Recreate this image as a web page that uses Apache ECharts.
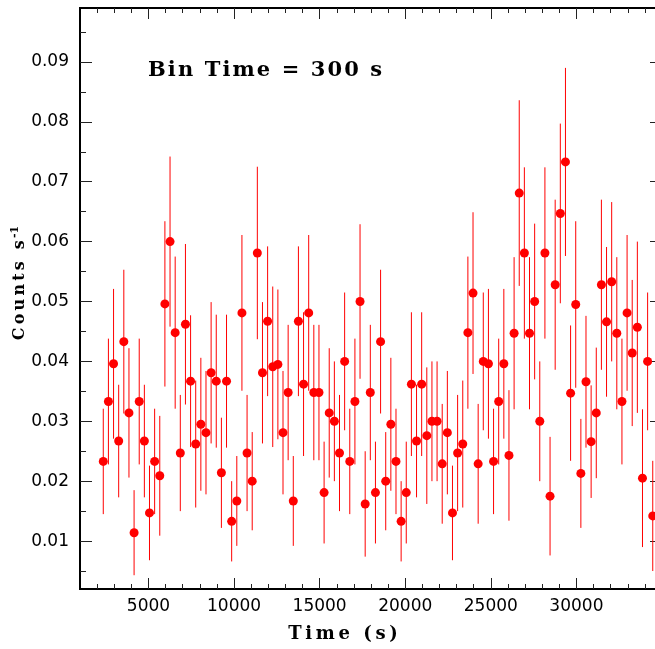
<!DOCTYPE html>
<html>
<head>
<meta charset="utf-8">
<title>Light curve</title>
<script src="https://cdn.jsdelivr.net/npm/echarts@6.0.0/dist/echarts.min.js"></script>
<style>
  html, body { margin: 0; padding: 0; background: #fff; }
  #chart { width: 655px; height: 649px; }
</style>
</head>
<body>
<div id="chart"></div>
<script>
// count rate per 300 s bin (counts/s) and 1-sigma error
const rates = [
  0.0233, 0.0333, 0.0396, 0.0267, 0.0433, 0.0314, 0.0114, 0.0333, 0.0267, 0.0147,
  0.0233, 0.0209, 0.0496, 0.0600, 0.0448, 0.0247, 0.0462, 0.0367, 0.0262, 0.0295,
  0.0281, 0.0381, 0.0367, 0.0214, 0.0367, 0.0133, 0.0167, 0.0481, 0.0247, 0.0200,
  0.0581, 0.0381, 0.0467, 0.0391, 0.0395, 0.0281, 0.0348, 0.0167, 0.0467, 0.0362,
  0.0481, 0.0348, 0.0348, 0.0181, 0.0314, 0.0300, 0.0247, 0.0400, 0.0233, 0.0333,
  0.0500, 0.0162, 0.0348, 0.0181, 0.0433, 0.0200, 0.0295, 0.0233, 0.0133, 0.0181,
  0.0362, 0.0267, 0.0362, 0.0276, 0.0300, 0.0300, 0.0229, 0.0281, 0.0147, 0.0247,
  0.0262, 0.0448, 0.0514, 0.0229, 0.0400, 0.0396, 0.0233, 0.0333, 0.0396, 0.0243,
  0.0447, 0.0681, 0.0581, 0.0447, 0.0500, 0.0300, 0.0581, 0.0175, 0.0528, 0.0647,
  0.0733, 0.0347, 0.0495, 0.0213, 0.0366, 0.0266, 0.0314, 0.0528, 0.0466, 0.0533,
  0.0447, 0.0333, 0.0481, 0.0414, 0.0457, 0.0205, 0.0400, 0.0142
];
const errors = [
  0.0088, 0.0105, 0.0125, 0.0094, 0.0120, 0.0108, 0.0071, 0.0105, 0.0094, 0.0079,
  0.0088, 0.0100, 0.0138, 0.0142, 0.0127, 0.0097, 0.0134, 0.0110, 0.0106, 0.0111,
  0.0103, 0.0118, 0.0111, 0.0092, 0.0111, 0.0067, 0.0075, 0.0130, 0.0097, 0.0082,
  0.0144, 0.0118, 0.0125, 0.0134, 0.0125, 0.0103, 0.0113, 0.0075, 0.0125, 0.0120,
  0.0130, 0.0113, 0.0113, 0.0085, 0.0108, 0.0100, 0.0097, 0.0115, 0.0088, 0.0105,
  0.0129, 0.0088, 0.0113, 0.0085, 0.0120, 0.0082, 0.0111, 0.0088, 0.0067, 0.0085,
  0.0120, 0.0094, 0.0120, 0.0114, 0.0100, 0.0100, 0.0100, 0.0103, 0.0079, 0.0097,
  0.0106, 0.0127, 0.0135, 0.0100, 0.0115, 0.0125, 0.0088, 0.0105, 0.0125, 0.0109,
  0.0127, 0.0155, 0.0143, 0.0127, 0.0130, 0.0100, 0.0143, 0.0099, 0.0142, 0.0150,
  0.0157, 0.0113, 0.0139, 0.0091, 0.0110, 0.0094, 0.0109, 0.0142, 0.0125, 0.0133,
  0.0127, 0.0105, 0.0130, 0.0122, 0.0143, 0.0115, 0.0115, 0.0092
];
const binTime = 300;     // s
const tStart = 2360;     // centre of first bin

// tick marks / labels
const xMajor = [5000, 10000, 15000, 20000, 25000, 30000, 35000];
const xLabels = [5000, 10000, 15000, 20000, 25000, 30000];
const xMinor = [2000, 3000, 4000, 6000, 7000, 8000, 9000, 11000, 12000, 13000, 14000,
  16000, 17000, 18000, 19000, 21000, 22000, 23000, 24000, 26000, 27000, 28000, 29000,
  31000, 32000, 33000, 34000];
const yMajor = [0.01, 0.02, 0.03, 0.04, 0.05, 0.06, 0.07, 0.08, 0.09];
const yMinor = [0.005, 0.015, 0.025, 0.035, 0.045, 0.055, 0.065, 0.075, 0.085, 0.095];

const times = rates.map((r, i) => tStart + i * binTime);
const points = rates.map((r, i) => [times[i], r]);
const bars = rates.map((r, i) => [times[i], r - errors[i], r + errors[i]]);

const LINE = '#000';
const TICK = '#222';
const labelFont = { color: '#000', fontFamily: 'DejaVu Sans', fontSize: 17 };

// poor man's letter spacing for the wide plotting font
const spaced = (s, sep) => s.split('').join(sep);

function xAxis(pos, ticks, len, labels) {
  return {
    type: 'value', position: pos, min: 1000, max: 35000,
    axisLine: { show: true, onZero: false, lineStyle: { color: LINE, width: 2 } },
    axisTick: { show: true, inside: true, length: len, customValues: ticks, lineStyle: { color: TICK, width: 1 } },
    axisLabel: labels ? Object.assign({ show: true, customValues: labels, margin: 9, formatter: v => String(v) }, labelFont) : { show: false },
    splitLine: { show: false }
  };
}

function yAxis(pos, ticks, len, labels) {
  return {
    type: 'value', position: pos, min: 0.002, max: 0.099,
    axisLine: { show: true, onZero: false, lineStyle: { color: LINE, width: 2 } },
    axisTick: { show: true, inside: true, length: len, customValues: ticks, lineStyle: { color: TICK, width: 1 } },
    axisLabel: labels ? Object.assign({ show: true, customValues: labels, margin: 11, formatter: v => v.toFixed(2) }, labelFont) : { show: false },
    splitLine: { show: false }
  };
}

const chart = echarts.init(document.getElementById('chart'), null, { renderer: 'canvas' });

chart.setOption({
  backgroundColor: '#fff',
  animation: false,
  grid: { left: 80, right: -7, top: 8, bottom: 60, outerBoundsMode: 'none' },
  xAxis: [
    xAxis('bottom', xMajor, 11, xLabels),
    xAxis('bottom', xMinor, 5),
    xAxis('top', xMajor, 11),
    xAxis('top', xMinor, 5)
  ],
  yAxis: [
    yAxis('left', yMajor, 12, yMajor),
    yAxis('left', yMinor, 6),
    yAxis('right', yMajor, 12),
    yAxis('right', yMinor, 6)
  ],
  graphic: [
    {
      type: 'text', x: 148, y: 71,
      style: {
        text: spaced('Bin Time = 300 s', '\u200A'),
        fontFamily: 'DejaVu Serif', fontWeight: 'bold', fontSize: 21,
        fill: '#000', textAlign: 'left', textVerticalAlign: 'middle'
      }
    },
    {
      type: 'text', x: 343, y: 634,
      style: {
        text: spaced('Time (s)', '\u2009'),
        fontFamily: 'DejaVu Serif', fontWeight: 'bold', fontSize: 18,
        fill: '#000', textAlign: 'center', textVerticalAlign: 'middle'
      }
    },
    {
      type: 'text', x: 19, y: 283, rotation: Math.PI / 2,
      style: {
        text: '{a|' + spaced('Counts s', '\u2009') + '}{b|\u2009-1}',
        textAlign: 'center', textVerticalAlign: 'middle',
        rich: {
          a: { fontFamily: 'DejaVu Serif', fontWeight: 'bold', fontSize: 16, fill: '#000', lineHeight: 18, verticalAlign: 'bottom' },
          b: { fontFamily: 'DejaVu Serif', fontWeight: 'bold', fontSize: 11, fill: '#000', lineHeight: 18, verticalAlign: 'top' }
        }
      }
    }
  ],
  series: [
    {
      // error bars
      type: 'custom',
      xAxisIndex: 0, yAxisIndex: 0,
      clip: true,
      encode: { x: 0, y: [1, 2] },
      data: bars,
      renderItem: function (params, api) {
        const lo = api.coord([api.value(0), api.value(1)]);
        const hi = api.coord([api.value(0), api.value(2)]);
        return {
          type: 'line',
          shape: { x1: lo[0], y1: lo[1], x2: hi[0], y2: hi[1] },
          style: { stroke: '#ff0000', lineWidth: 1 }
        };
      },
      z: 2
    },
    {
      type: 'scatter',
      xAxisIndex: 0, yAxisIndex: 0,
      symbol: 'circle',
      symbolSize: 9,
      itemStyle: { color: '#ff0000', opacity: 1 },
      data: points,
      z: 3
    }
  ]
});
</script>
</body>
</html>
